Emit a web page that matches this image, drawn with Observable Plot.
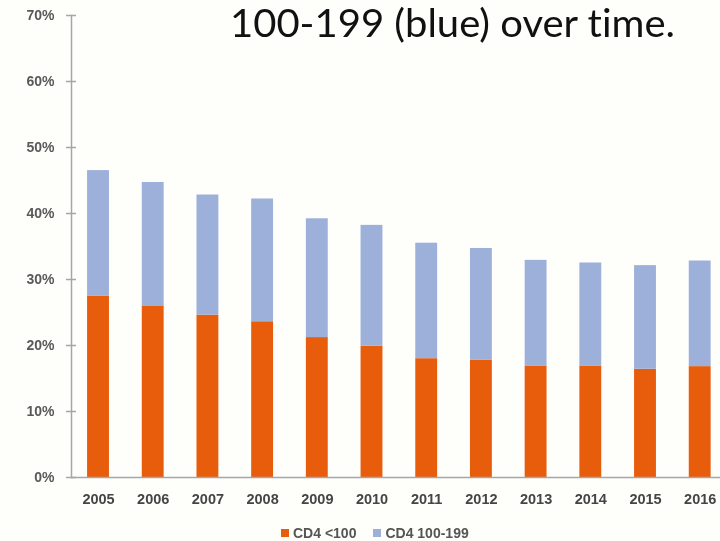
<!DOCTYPE html>
<html>
<head>
<meta charset="utf-8">
<script src="https://cdn.jsdelivr.net/npm/d3@7"></script>
<script src="https://cdn.jsdelivr.net/npm/@observablehq/plot@0.6"></script>
<style>
  html, body { margin: 0; padding: 0; background: #fefefb; }
  #wrap { position: relative; width: 720px; height: 541px; overflow: hidden; }
  #chart svg { display: block; filter: blur(0.45px); }
  #title {
    position: absolute; left: 230px; top: 0px;
    font-family: Lato, "Open Sans", sans-serif; font-size: 39px; line-height: 44px;
    font-variant-ligatures: none; font-feature-settings: "liga" 0;
    color: #111; white-space: nowrap; transform-origin: 0 0;
  }
  #legend {
    position: absolute; left: 281px; top: 524px; height: 18px;
    display: flex; align-items: center; gap: 0;
    font-family: "Liberation Sans", Arial, sans-serif; font-size: 14px; font-weight: 600;
    color: #555; filter: blur(0.45px);
  }
  #legend .item { display: flex; align-items: center; margin-right: 17px; }
  #legend .sw { width: 8px; height: 8px; margin-right: 4px; }
</style>
</head>
<body>
<div id="wrap">
  <div id="chart"></div>
  <div id="title">100-199 (blue) over time.</div>
  <div id="legend"></div>
</div>
<script>
// Share of people by CD4 count at diagnosis, per year (percent)
const years = ["2005", "2006", "2007", "2008", "2009", "2010", "2011", "2012", "2013", "2014", "2015", "2016"];
const cd4Under100 = [27.5, 26.0, 24.6, 23.6, 21.2, 19.9, 18.0, 17.8, 16.9, 16.9, 16.4, 16.8];
const cd4From100To199 = [19.0, 18.7, 18.2, 18.6, 18.0, 18.3, 17.5, 16.9, 16.0, 15.6, 15.7, 16.0];
const seriesNames = ["CD4 <100", "CD4 100-199"];
const seriesColors = ["#e85d0c", "#9db0da"];
const yTicks = [0, 10, 20, 30, 40, 50, 60, 70];

const rows = [];
years.forEach((year, i) => {
  rows.push({year, series: seriesNames[0], value: cd4Under100[i]});
  rows.push({year, series: seriesNames[1], value: cd4From100To199[i]});
});

const axisGray = "#a6a6a6";

const chart = Plot.plot({
  width: 720,
  height: 510,
  marginTop: 15,
  marginBottom: 33,
  marginLeft: 71,
  marginRight: 0,
  style: {background: "transparent", overflow: "visible"},
  x: {
    domain: years,
    paddingInner: 0.6,
    paddingOuter: 0.2325,
    align: 0.632,
    round: false,
    label: null
  },
  y: {domain: [0, 70], label: null},
  color: {domain: seriesNames, range: seriesColors},
  marks: [
    Plot.barY(rows, {x: "year", y: "value", fill: "series", order: seriesNames}),
    Plot.frame({anchor: "left", stroke: axisGray, strokeWidth: 1.5}),
    Plot.ruleY([0], {stroke: axisGray, strokeWidth: 1.5}),
    // tick marks straddling the vertical axis line
    Plot.axisY({ticks: yTicks, tickSize: 10, dx: 5, stroke: axisGray, strokeWidth: 1.5, tickFormat: () => ""}),
    Plot.axisY({
      ticks: yTicks, tickSize: 0, tickPadding: 17,
      tickFormat: d => d + "%",
      fontSize: 14, fontWeight: "bold", fontFamily: "Liberation Sans, Arial, sans-serif",
      fill: "#595959"
    }),
    Plot.axisX({
      tickSize: 0, tickPadding: 16,
      fontSize: 14.5, fontWeight: "bold", fontFamily: "Liberation Sans, Arial, sans-serif",
      fill: "#454545"
    })
  ]
});
document.getElementById("chart").append(chart);

// Legend swatches built from the same series names and colours
const legend = document.getElementById("legend");
seriesNames.forEach((name, i) => {
  const item = document.createElement("div");
  item.className = "item";
  const sw = document.createElement("div");
  sw.className = "sw";
  sw.style.background = seriesColors[i];
  const label = document.createElement("span");
  label.textContent = name;
  item.append(sw, label);
  legend.append(item);
});

// Fit the heading to its line width
const title = document.getElementById("title");
const w = title.getBoundingClientRect().width;
title.style.transform = `scaleX(${445 / w})`;
</script>
</body>
</html>
